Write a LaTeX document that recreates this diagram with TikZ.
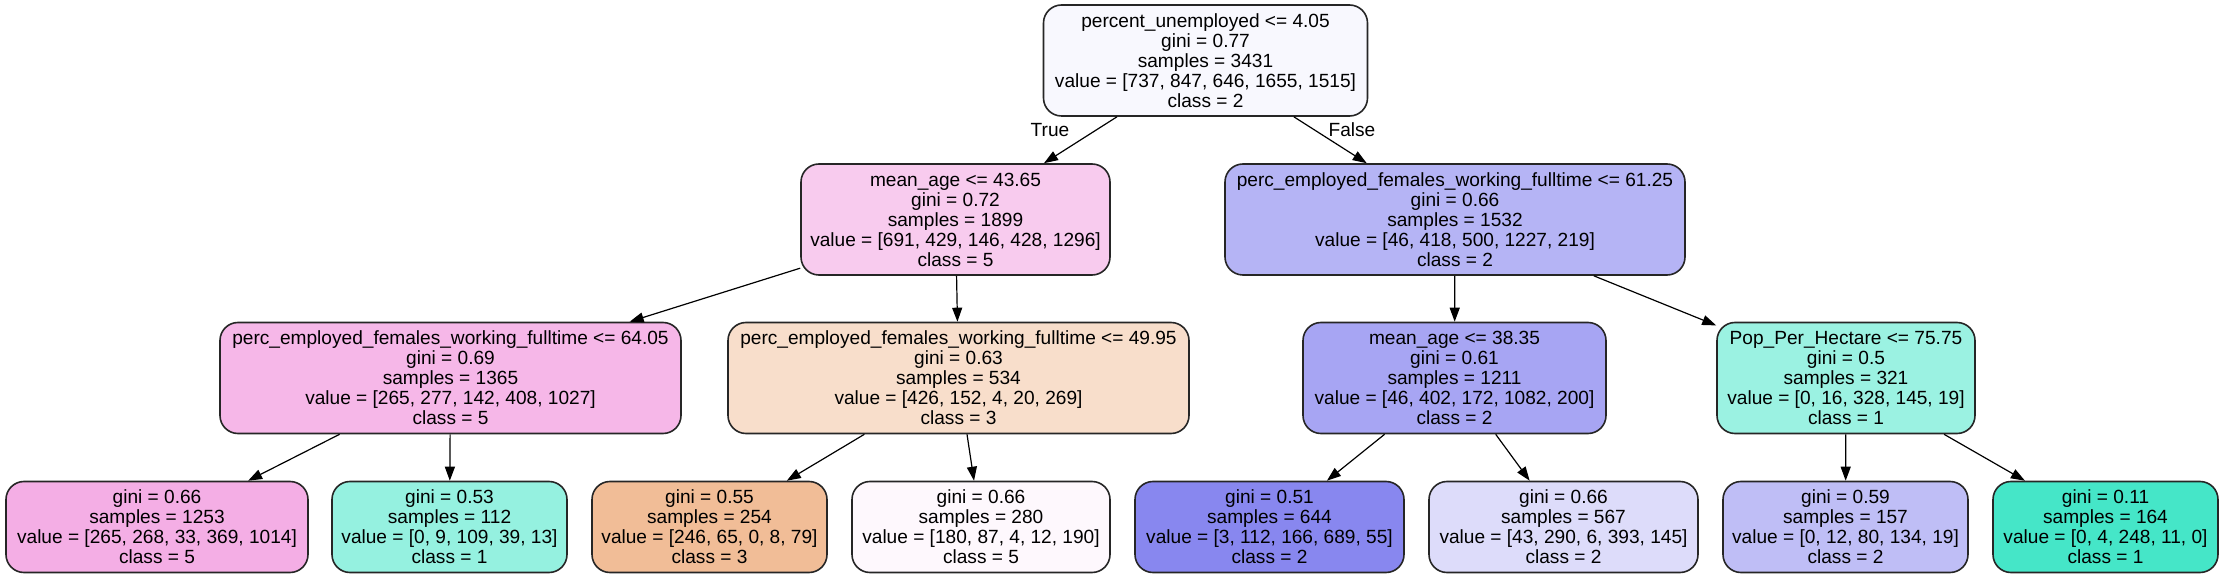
\documentclass[tikz,border=0pt]{standalone}
\usepackage{fontspec}
\setmainfont{Liberation Sans}
\usetikzlibrary{arrows.meta}
\definecolor{cRoot}{RGB}{248,248,254}
\definecolor{cL}{RGB}{248,203,238}
\definecolor{cR}{RGB}{181,180,245}
\definecolor{cLL}{RGB}{246,183,232}
\definecolor{cLR}{RGB}{248,222,203}
\definecolor{cRL}{RGB}{167,165,243}
\definecolor{cRR}{RGB}{155,242,226}
\definecolor{cLLL}{RGB}{244,174,229}
\definecolor{cLLR}{RGB}{149,241,224}
\definecolor{cLRL}{RGB}{241,189,151}
\definecolor{cLRR}{RGB}{254,248,253}
\definecolor{cRLL}{RGB}{136,135,239}
\definecolor{cRLR}{RGB}{221,220,250}
\definecolor{cRRL}{RGB}{191,190,246}
\definecolor{cRRR}{RGB}{69,230,200}

\begin{document}
\begin{tikzpicture}[x=0.5pt,y=-0.5pt,
  txt/.style={font=\fontsize{9.55}{10}\selectfont},
  split/.style={txt,draw=black!85,line width=0.8pt,rounded corners=9pt,align=center,
    minimum height=55.5pt,inner xsep=3pt,inner ysep=0pt},
  leaf/.style={split,minimum height=45.5pt},
  edge/.style={line width=0.6pt,-{Triangle[length=7pt,width=5pt]}}]
\useasboundingbox (0,0) rectangle (2224,577);
% level 0 and 1
\node [split,fill=cRoot,minimum width=162pt] (root) at (1205.5,60.5)
  {percent\_unemployed <= 4.05\\gini = 0.77\\samples = 3431\\value = [737, 847, 646, 1655, 1515]\\class = 2};
\node [split,fill=cL,minimum width=154.5pt] (l) at (955.5,219.5)
  {mean\_age <= 43.65\\gini = 0.72\\samples = 1899\\value = [691, 429, 146, 428, 1296]\\class = 5};
\node [split,fill=cR,minimum width=230pt] (r) at (1455,219.5)
  {perc\_employed\_females\_working\_fulltime <= 61.25\\gini = 0.66\\samples = 1532\\value = [46, 418, 500, 1227, 219]\\class = 2};
% level 2
\node [split,fill=cLL,minimum width=230.5pt] (ll) at (450.5,378)
  {perc\_employed\_females\_working\_fulltime <= 64.05\\gini = 0.69\\samples = 1365\\value = [265, 277, 142, 408, 1027]\\class = 5};
\node [split,fill=cLR,minimum width=230.5pt] (lr) at (958.5,378)
  {perc\_employed\_females\_working\_fulltime <= 49.95\\gini = 0.63\\samples = 534\\value = [426, 152, 4, 20, 269]\\class = 3};
\node [split,fill=cRL,minimum width=151.5pt] (rl) at (1454.5,378)
  {mean\_age <= 38.35\\gini = 0.61\\samples = 1211\\value = [46, 402, 172, 1082, 200]\\class = 2};
\node [split,fill=cRR,minimum width=129pt] (rr) at (1846,378)
  {Pop\_Per\_Hectare <= 75.75\\gini = 0.5\\samples = 321\\value = [0, 16, 328, 145, 19]\\class = 1};
% leaves
\node [leaf,fill=cLLL,minimum width=151pt] (lll) at (157,527)
  {gini = 0.66\\samples = 1253\\value = [265, 268, 33, 369, 1014]\\class = 5};
\node [leaf,fill=cLLR,minimum width=117.5pt] (llr) at (449.5,527)
  {gini = 0.53\\samples = 112\\value = [0, 9, 109, 39, 13]\\class = 1};
\node [leaf,fill=cLRL,minimum width=117.5pt] (lrl) at (709.5,527)
  {gini = 0.55\\samples = 254\\value = [246, 65, 0, 8, 79]\\class = 3};
\node [leaf,fill=cLRR,minimum width=129pt] (lrr) at (981,527)
  {gini = 0.66\\samples = 280\\value = [180, 87, 4, 12, 190]\\class = 5};
\node [leaf,fill=cRLL,minimum width=134.5pt] (rll) at (1269.5,527)
  {gini = 0.51\\samples = 644\\value = [3, 112, 166, 689, 55]\\class = 2};
\node [leaf,fill=cRLR,minimum width=134.5pt] (rlr) at (1563.5,527)
  {gini = 0.66\\samples = 567\\value = [43, 290, 6, 393, 145]\\class = 2};
\node [leaf,fill=cRRL,minimum width=122.5pt] (rrl) at (1845.5,527)
  {gini = 0.59\\samples = 157\\value = [0, 12, 80, 134, 19]\\class = 2};
\node [leaf,fill=cRRR,minimum width=112.5pt] (rrr) at (2105.5,527)
  {gini = 0.11\\samples = 164\\value = [0, 4, 248, 11, 0]\\class = 1};
% edges
\draw [edge] (root) -- (l);
\draw [edge] (root) -- (r);
\node [txt] (true) at (1050,130) {True};
\node [txt] (false) at (1352,130) {False};
\draw [edge] (l) -- (ll);
\draw [edge] (l) -- (lr);
\draw [edge] (r) -- (rl);
\draw [edge] (r) -- (rr);
\draw [edge] (ll) -- (lll);
\draw [edge] (ll) -- (llr);
\draw [edge] (lr) -- (lrl);
\draw [edge] (lr) -- (lrr);
\draw [edge] (rl) -- (rll);
\draw [edge] (rl) -- (rlr);
\draw [edge] (rr) -- (rrl);
\draw [edge] (rr) -- (rrr);
\end{tikzpicture}
\end{document}
